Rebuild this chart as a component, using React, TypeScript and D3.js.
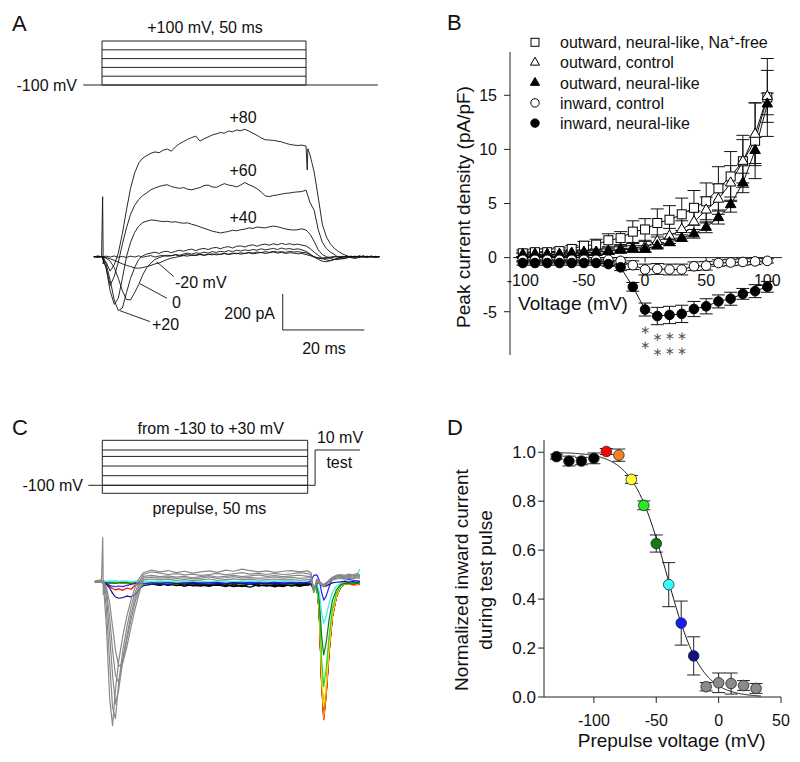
import React from "react";
import * as d3 from "d3";

const FONT = "Arial, 'Liberation Sans', Helvetica, sans-serif";

// ================= Panel A data (time in ms, current in pA) =================
const protoLevelsA = [-100, -60, -20, 20, 60, 100];
const timeA = d3.range(-2, 69); // sampling grid, ms
const traceA80 = [
  0, 3, 0, -30, -80, -45, 20, 130, 260, 380,
  465, 520, 548, 562, 575, 582, 578, 592, 598, 586,
  610, 628, 640, 652, 662, 670, 642, 655, 665, 676,
  682, 690, 686, 698, 694, 704, 700, 708, 698, 686,
  674, 660, 650, 648, 646, 642, 638, 630, 624, 620,
  618, 620, 615, 565, 470, 330, 180, 110, 70, 45,
  28, 15, 5, -5, -10, -4, 3, -3, 2, -2,
  1];
const traceA80Notch: [number, number][] = [[50.3, 482], [50.45, 600]];
const traceA60 = [
  0, -3, 0, -60, -160, -110, -30, 70, 160, 235,
  285, 318, 340, 355, 372, 382, 390, 396, 400, 390,
  384, 380, 384, 375, 372, 378, 384, 395, 398, 388,
  385, 396, 406, 398, 394, 388, 398, 412, 400, 390,
  378, 360, 338, 334, 340, 343, 348, 352, 354, 358,
  360, 362, 370, 300, 258, 150, 80, 45, 25, 12,
  -5, -12, -8, 2, -3, 4, 0, -3, 2, -2,
  0];
const traceA40 = [
  0, 2, 0, -60, -190, -265, -230, -120, 0, 80,
  135, 170, 190, 198, 204, 202, 198, 195, 197, 192,
  194, 189, 186, 188, 180, 174, 166, 158, 150, 142,
  137, 132, 136, 140, 147, 144, 150, 153, 160, 157,
  165, 162, 160, 166, 170, 167, 160, 154, 150, 148,
  150, 155, 148, 125, 85, 38, 12, 0, -10, -16,
  -16, -10, -4, 2, -3, 4, -2, 3, -3, 1,
  0];
const traceA20 = [
  0, 2, 0, -40, -130, -240, -300, -285, -200, -120,
  -60, -15, 5, 15, 20, 25, 18, 28, 30, 22,
  30, 36, 30, 38, 42, 34, 42, 46, 40, 48,
  52, 44, 52, 56, 48, 58, 60, 54, 62, 66,
  58, 66, 70, 64, 72, 66, 74, 68, 72, 66,
  70, 64, 60, 45, 25, 8, -8, -18, -22, -15,
  -8, -3, 4, -2, 3, -4, 2, -1, 3, -2,
  0];
const traceA0 = [
  0, -2, 0, -8, -25, -60, -120, -190, -238, -240,
  -200, -155, -100, -60, -35, -15, -5, 2, 8, 5,
  12, 8, 15, 20, 14, 22, 18, 25, 20, 28,
  24, 30, 26, 34, 28, 36, 32, 38, 34, 40,
  36, 44, 38, 42, 46, 40, 48, 42, 45, 40,
  44, 38, 30, 15, -2, -15, -25, -28, -22, -14,
  -8, -2, 3, -3, 2, -2, 4, -1, 2, -3,
  0];
const traceAm20 = [
  0, 2, 0, -4, -12, -20, -30, -40, -48, -55,
  -62, -64, -60, -55, -48, -40, -35, -25, -15, -8,
  -4, 2, 6, 3, 10, 6, 12, 8, 14, 10,
  16, 12, 18, 14, 20, 16, 22, 18, 24, 20,
  26, 22, 28, 24, 30, 26, 28, 24, 30, 26,
  28, 24, 22, 12, 0, -8, -12, -10, -6, -2,
  2, -2, 3, -3, 1, -2, 3, -1, 2, -2,
  0];
const traceAm40 = [
  0, -2, 0, 3, -2, 4, -3, 2, -4, 3,
  -2, 5, -3, 2, 6, -2, 4, 8, 2, 6,
  10, 4, 8, 12, 6, 10, 14, 8, 12, 16,
  10, 14, 18, 12, 16, 20, 14, 18, 22, 16,
  20, 24, 18, 22, 26, 20, 24, 18, 22, 20,
  16, 18, 12, 6, -2, -6, -8, -4, -2, 2,
  -3, 2, -2, 3, -1, 2, -3, 1, -2, 2,
  0];
const spikeA: [number, number][] = [[-0.1, 0], [0.15, 333], [0.3, -40], [0.55, 0]];

// ================= Panel B data =================
const voltB = [-100, -90, -80, -70, -60, -50, -40, -30, -20, -10, 0, 10, 20, 30, 40, 50, 60, 70, 80, 90, 100];
const sqMean = [0.4, 0.5, 0.5, 0.6, 0.8, 1.1, 1.2, 1.6, 1.8, 2.4, 2.6, 3.2, 3.5, 4.0, 4.6, 5.2, 6.4, 7.5, 8.9, 10.8, 14.8];
const sqErr = [0.3, 0.3, 0.3, 0.3, 0.3, 0.4, 0.5, 0.6, 0.6, 1.0, 1.0, 1.3, 1.3, 1.5, 1.6, 1.7, 2.0, 2.3, 2.4, 3.5, 3.6];
const triOMean = [0.2, 0.3, 0.3, 0.3, 0.4, 0.4, 0.5, 0.6, 0.8, 0.9, 1.0, 1.5, 2.0, 2.6, 3.3, 4.4, 5.4, 6.9, 8.9, 11.4, 14.9];
const triOErr = [0.2, 0.2, 0.2, 0.2, 0.2, 0.2, 0.3, 0.3, 0.3, 0.4, 0.5, 0.6, 0.7, 0.8, 1.0, 1.2, 1.4, 1.6, 2.0, 2.9, 2.4];
const triFMean = [0.3, 0.3, 0.3, 0.3, 0.4, 0.5, 0.5, 0.6, 0.7, 0.8, 0.8, 1.1, 1.4, 1.8, 2.2, 2.8, 3.7, 4.9, 6.9, 9.9, 14.2];
const triFErr = [0.2, 0.2, 0.2, 0.2, 0.2, 0.2, 0.2, 0.2, 0.3, 0.3, 0.3, 0.3, 0.3, 0.3, 0.4, 0.5, 0.6, 0.7, 0.9, 1.2, 1.0];
const cirOMean = [-0.2, -0.2, -0.2, -0.2, -0.2, -0.2, -0.2, -0.2, -0.3, -0.7, -1.1, -1.05, -1.1, -1.1, -0.8, -0.75, -0.5, -0.45, -0.4, -0.35, -0.3];
const cirOErr = [0.2, 0.2, 0.2, 0.2, 0.2, 0.2, 0.2, 0.2, 0.3, 0.4, 0.5, 0.5, 0.5, 0.5, 0.4, 0.4, 0.3, 0.3, 0.3, 0.3, 0.2];
const cirFMean = [-0.5, -0.5, -0.5, -0.5, -0.5, -0.5, -0.5, -0.6, -0.9, -2.7, -4.8, -5.4, -5.3, -5.2, -4.75, -4.5, -4.05, -3.8, -3.35, -3.1, -2.7];
const cirFErr = [0.2, 0.2, 0.2, 0.2, 0.2, 0.2, 0.2, 0.2, 0.3, 0.4, 0.6, 0.8, 0.8, 0.8, 0.7, 0.7, 0.6, 0.6, 0.5, 0.6, 0.5];
const ticksBy = [-5, 0, 5, 10, 15];
const ticksBx = [-100, -50, 0, 50, 100];
const starV = [0, 10, 20, 30];
const starTop = [-6.65, -7.3, -7.2, -7.2];
const starBottom = [-8.0, -8.7, -8.6, -8.6];
const legendB = ["outward, neural-like, Na", "outward, control", "outward, neural-like", "inward, control", "inward, neural-like"];

// ================= Panel C data =================
const protoLevelsC = [-130, -100, -70, -40, -10, 10, 30];
const timeC = [
  -1.8, -1, -0.3, 0.3, 1, 1.8, 2.5, 3.2, 4, 5,
  6, 7, 8, 9, 10, 12, 14, 16, 18, 20,
  22, 24, 26, 28, 30, 32, 34, 36, 38, 40,
  42, 44, 46, 48, 50, 50.8, 51.5, 52.2, 52.8, 53.4,
  53.9, 54.5, 55.2, 56, 57, 58, 59, 60, 61, 62,
  62.7];
const cBlack1 = [0, 3, -2, 4, -3, -6, -4, -8, -5, -7, -4, -8, -6, -3, -7, -12, -18, -10, -22, -14, -20, -25, -12, -18, -28, -15, -22, -30, -16, -24, -20, -27, -14, -21, -18,
  -15, -45, -20, -164, -559, -745, -618, -387, -194, -82, -30, -12, -9, -14, -8, -11];
const cBlack2 = [0, -2, 4, -3, -5, -2, -7, -4, -9, -5, -3, -7, -10, -6, -4, -15, -9, -20, -13, -25, -16, -11, -22, -18, -14, -26, -19, -12, -23, -17, -29, -15, -20, -13, -19,
  -14, -42, -18, -161, -548, -730, -606, -380, -190, -80, -29, -10, -12, -7, -13, -9];
const cBlack3 = [0, 2, -3, 1, -4, -6, -3, -8, -5, -4, -9, -6, -3, -8, -5, -10, -17, -8, -19, -12, -23, -16, -10, -21, -15, -27, -18, -13, -24, -16, -21, -12, -25, -17, -14,
  -12, -44, -17, -163, -555, -740, -614, -385, -192, -81, -30, -11, -8, -13, -9, -12];
const cBlack4 = [0, -3, 2, -2, -5, -3, -6, -9, -4, -7, -5, -8, -11, -6, -9, -13, -20, -11, -16, -24, -13, -19, -26, -14, -21, -17, -28, -13, -20, -24, -15, -22, -18, -26, -16,
  -13, -40, -16, -166, -566, -755, -627, -393, -196, -83, -30, -10, -13, -8, -12, -10];
const cRed = [0, 2, -3, 2, -10, -25, -38, -45, -40, -48, -35, -42, -20, -10, -8, -12, -6, -10, -14, -8, -11, -7, -13, -9, -6, -12, -8, -10, -7, -11, -9, -6, -10, -8, -11,
  -8, -40, -15, -170, -575, -767, -635, -400, -200, -85, -30, -12, -14, -18, -16, -15];
const cOrange = [0, -2, 3, -5, -8, -4, -9, -6, -10, -7, -5, -9, -6, -11, -8, -5, -10, -7, -12, -6, -9, -11, -7, -5, -10, -8, -12, -6, -9, -7, -11, -8, -6, -10, -7,
  -9, -40, -15, -165, -570, -760, -630, -395, -198, -84, -30, -12, -15, -10, -14, -11];
const cYellow = [5, 10, 2, -3, -5, -2, -7, -4, -6, -3, -8, -5, -2, -6, -4, -7, -3, -5, -8, -4, -6, -2, -7, -5, -3, -6, -8, -4, -5, -7, -3, -6, -4, -8, -5,
  -6, -45, -15, -150, -520, -694, -575, -360, -180, -76, -28, -8, -10, -7, -12, -9];
const cGreen = [0, 4, -3, -2, -6, -3, -8, -5, -2, -7, -4, -9, -6, -3, -8, -11, -5, -9, -7, -12, -6, -10, -8, -4, -11, -7, -14, -9, -6, -12, -8, -10, -13, -7, -9,
  -10, -60, -20, -128, -437, -583, -484, -303, -152, -64, -23, -10, -12, -8, -11, -6];
const cDkGreen = [0, -3, 2, -6, -4, -8, -5, -9, -6, -3, -7, -10, -5, -8, -12, -6, -9, -4, -11, -7, -13, -8, -5, -10, -14, -7, -9, -12, -6, -10, -8, -13, -7, -11, -9,
  -8, -45, -18, -90, -305, -407, -338, -212, -106, -45, -16, -8, -10, -6, -9, -7];
const cCyan = [0, 3, -2, 4, 2, 5, 3, 6, 2, 5, 4, 1, 3, 6, 2, 4, 0, 3, 5, 1, 4, 2, -1, 3, 5, 0, 2, 4, 1, 3, 5, 2, 0, 4, 2,
  2, -40, -10, -51, -173, -231, -192, -120, -60, -25, -9, 5, 12, 20, 40, 70];
const cBlue = [0, -2, 3, -4, -10, -20, -25, -28, -24, -27, -20, -15, -10, -8, -12, -6, -9, -5, -10, -7, -4, -8, -6, -3, -9, -5, -7, -4, -8, -6, -3, -7, -5, -8, -4,
  5, 35, 38, 10, -60, -102, -80, -30, 15, 35, 30, 20, 12, 8, 5, 3];
const cNavy = [0, 2, -3, -5, -15, -35, -65, -85, -92, -88, -80, -84, -72, -40, -22, -15, -12, -18, -10, -14, -8, -12, -16, -9, -13, -7, -11, -15, -9, -12, -8, -13, -10, -7, -11,
  -10, -40, -12, -6, -21, -28, -23, -15, -7, -3, -1, 2, -2, 1, -3, 0];
const cGray1 = [0, 5, 10, -20, -250, -650, -800, -600, -440, -300, -190, -100, -30, 20, 50, 65, 55, 62, 50, 58, 48, 55, 60, 52, 64, 58, 70, 62, 55, 60, 52, 58, 62, 55, 60,
  50, -60, 15, 5, -10, -15, -5, 10, 25, 35, 40, 35, 42, 38, 45, 40];
const cGray2 = [0, -4, 8, -10, -150, -450, -700, -760, -560, -380, -250, -140, -60, 0, 40, 55, 48, 40, 45, 38, 42, 35, 40, 46, 38, 44, 50, 42, 48, 40, 46, 40, 44, 50, 45,
  40, -55, 10, 0, -12, -18, -8, 5, 20, 30, 35, 30, 36, 32, 38, 34];
const cGray3 = [0, 4, -5, -5, -80, -300, -520, -680, -600, -430, -300, -180, -90, -20, 30, 35, 28, 32, 25, 30, 22, 28, 34, 26, 30, 36, 28, 32, 38, 30, 34, 28, 32, 36, 30,
  30, -50, 5, -5, -15, -22, -10, 2, 15, 25, 28, 25, 30, 26, 32, 28];
const cGray4 = [0, -3, 6, 0, -50, -200, -380, -520, -560, -440, -320, -210, -110, -40, 20, 25, 20, 24, 18, 22, 16, 20, 26, 18, 22, 28, 20, 24, 18, 22, 26, 20, 24, 18, 22,
  22, -45, 0, -8, -18, -25, -12, 0, 12, 20, 22, 18, 24, 20, 26, 22];
const cGray5 = [0, 3, -4, 0, -30, -120, -250, -380, -470, -450, -360, -250, -150, -60, 10, 15, 10, 14, 8, 12, 6, 10, 15, 8, 12, 16, 10, 14, 8, 12, 15, 10, 12, 8, 12,
  12, -40, -5, -10, -20, -28, -15, -3, 8, 15, 18, 14, 20, 16, 22, 18];
const spikeC: [number, number][] = [[-0.2, 0], [0.1, 245], [0.25, -72], [0.5, 0]];

// ================= Panel D data =================
const voltD = [-130, -120, -110, -100, -90, -80, -70, -60, -50, -40, -30, -20, -10, 0, 10, 20, 30];
const meanD = [0.982, 0.964, 0.964, 0.975, 1.003, 0.988, 0.889, 0.783, 0.627, 0.459, 0.302, 0.168, 0.042, 0.058, 0.055, 0.047, 0.035];
const errD = [0.01, 0.02, 0.015, 0.022, 0.012, 0.025, 0.016, 0.018, 0.035, 0.09, 0.09, 0.078, 0.017, 0.04, 0.043, 0.02, 0.02];
const colorD = ["#000000", "#000000", "#000000", "#000000", "#ff0000", "#f5831f", "#ffff33", "#22ee22", "#137a13", "#33ffff", "#1a1aff", "#10108c", "#8a8a8a", "#8a8a8a", "#8a8a8a", "#8a8a8a", "#8a8a8a"];
const fitVhalf = -41.6;
const fitSlope = 13.7;
const ticksDx = [-100, -50, 0, 50];
const ticksDy = [0, 0.2, 0.4, 0.6, 0.8, 1.0];

type P = [number, number];

export default function App() {
  // ---- scales A
  const xA = d3.scaleLinear().domain([0, 50]).range([102, 306]);
  const yA = d3.scaleLinear().domain([0, 200]).range([256.7, 220.7]);
  const vA = d3.scaleLinear().domain([-100, 100]).range([85, 41]);
  const lineA = d3.line<P>().x((d) => xA(d[0])).y((d) => yA(d[1]));
  const ptsA = (vals: number[]) => timeA.map((t, i) => [t, vals[i]] as P);
  const a80pts = [...ptsA(traceA80), ...traceA80Notch].sort((a, b) => a[0] - b[0]);
  const tracesA = [traceAm40, traceAm20, traceA0, traceA20, traceA40, traceA60];

  // ---- scales B
  const xB = d3.scaleLinear().domain([-108, 112]).range([513, 782]);
  const yB = d3.scaleLinear().domain([-9, 19]).range([355, 52]);
  const lineB = d3.line<P>().x((d) => xB(d[0])).y((d) => yB(d[1]));
  const triPath = d3.symbol().type(d3.symbolTriangle).size(48)() as string;
  const triLeg = d3.symbol().type(d3.symbolTriangle).size(36)() as string;
  const seriesB = [
    { m: sqMean, e: sqErr, kind: "sq" },
    { m: triOMean, e: triOErr, kind: "triO" },
    { m: triFMean, e: triFErr, kind: "triF" },
    { m: cirOMean, e: cirOErr, kind: "cirO" },
    { m: cirFMean, e: cirFErr, kind: "cirF" },
  ];
  const marker = (kind: string, x: number, y: number, leg = false, key?: any) => {
    if (kind === "sq") {
      const s = leg ? 8 : 9;
      return <rect key={key} x={x - s / 2} y={y - s / 2} width={s} height={s} fill="#fff" stroke="#000" strokeWidth={1} />;
    }
    if (kind === "triO" || kind === "triF") {
      return <path key={key} d={leg ? triLeg : triPath} transform={`translate(${x},${y})`} fill={kind === "triF" ? "#000" : "#fff"} stroke="#000" strokeWidth={1} />;
    }
    return <circle key={key} cx={x} cy={y} r={leg ? 4.2 : 4.8} fill={kind === "cirF" ? "#000" : "#fff"} stroke="#000" strokeWidth={1} />;
  };

  // ---- scales C
  const xC = d3.scaleLinear().domain([0, 50]).range([102.3, 307.7]);
  const yC = d3.scaleLinear().domain([0, 200]).range([581.7, 545.7]);
  const vC = d3.scaleLinear().domain([-130, -100, 10, 30]).range([493.3, 485.3, 450, 440.3]);
  const lineC = d3.line<P>().x((d) => xC(d[0])).y((d) => yC(d[1]));
  const ptsC = (vals: number[]) => timeC.map((t, i) => [t, vals[i]] as P);
  const tracesC = [
    { v: cBlack1, c: "#000" }, { v: cBlack2, c: "#000" }, { v: cBlack3, c: "#000" }, { v: cBlack4, c: "#000" },
    { v: cRed, c: "#ff0000" }, { v: cOrange, c: "#ff8a1c" }, { v: cYellow, c: "#f2e600" }, { v: cGreen, c: "#22dd22" },
    { v: cDkGreen, c: "#117711" }, { v: cCyan, c: "#33eeee" }, { v: cBlue, c: "#2222ff" }, { v: cNavy, c: "#12128a" },
    { v: cGray1, c: "#888" }, { v: cGray2, c: "#888" }, { v: cGray3, c: "#888" }, { v: cGray4, c: "#888" }, { v: cGray5, c: "#888" },
  ];

  // ---- scales D
  const xD = d3.scaleLinear().domain([-140, 50]).range([544, 781]);
  const yD = d3.scaleLinear().domain([0, 1.05]).range([697, 440]);
  const fitV = d3.range(-130, 34.5, 0.5);
  const fitLine = d3.line<number>().x((v) => xD(v)).y((v) => yD(1 / (1 + Math.exp((v - fitVhalf) / fitSlope))));

  const txt = { fontFamily: FONT, fill: "#111" } as const;

  return (
    <svg width={800} height={762} style={{ position: "absolute", left: 0, top: 0, background: "#fff" }} fontFamily={FONT}>
      <rect width={800} height={762} fill="#fff" />
      {/* ============ Panel A ============ */}
      <text x={12} y={31} fontSize={22} {...txt}>A</text>
      <text x={205} y={33} fontSize={16} textAnchor="middle" {...txt}>+100 mV, 50 ms</text>
      <g stroke="#222" strokeWidth={1} fill="none">
        <path d={`M${xA(-4.6)},${vA(-100)}H${xA(67.6)}`} />
        {protoLevelsA.map((v) => (
          <path key={v} d={`M${xA(0)},${vA(v)}H${xA(50)}`} />
        ))}
        <path d={`M${xA(0)},${vA(-100)}V${vA(100)}M${xA(50)},${vA(-100)}V${vA(100)}`} />
      </g>
      <text x={77} y={91} fontSize={16} textAnchor="end" {...txt}>-100 mV</text>
      <g fill="none" stroke="#111" strokeWidth={0.9} strokeLinejoin="round">
        {tracesA.map((vals, i) => (
          <path key={i} d={lineA(ptsA(vals)) as string} />
        ))}
        <path d={lineA(a80pts) as string} />
        <path d={lineA(spikeA) as string} />
      </g>
      <text x={243} y={122.5} fontSize={16} textAnchor="middle" {...txt}>+80</text>
      <text x={243} y={176} fontSize={16} textAnchor="middle" {...txt}>+60</text>
      <text x={243} y={223} fontSize={16} textAnchor="middle" {...txt}>+40</text>
      <g stroke="#111" strokeWidth={0.9}>
        <line x1={xA(13.4)} y1={yA(-28)} x2={xA(17.6)} y2={yA(-111)} />
        <line x1={xA(9.3)} y1={yA(-150)} x2={xA(15.9)} y2={yA(-231)} />
        <line x1={xA(4.4)} y1={yA(-300)} x2={xA(11.8)} y2={yA(-361)} />
      </g>
      <text x={175} y={287.5} fontSize={16} {...txt}>-20 mV</text>
      <text x={172} y={307.5} fontSize={16} {...txt}>0</text>
      <text x={152} y={330} fontSize={16} {...txt}>+20</text>
      <path d={`M${xA(44.3)},${yA(-207)}V${yA(-407)}H${xA(64.3)}`} fill="none" stroke="#222" strokeWidth={1} />
      <text x={275} y={318.5} fontSize={16} textAnchor="end" {...txt}>200 pA</text>
      <text x={324} y={353.5} fontSize={16} textAnchor="middle" {...txt}>20 ms</text>

      {/* ============ Panel B ============ */}
      <text x={447} y={30} fontSize={22} {...txt}>B</text>
      <g stroke="#222" strokeWidth={1} fill="none">
        <line x1={xB(-108) - 3} y1={yB(19)} x2={xB(-108) - 3} y2={yB(-9)} />
        <line x1={xB(-108)} y1={yB(0)} x2={xB(112)} y2={yB(0)} />
        {ticksBy.map((t) => (
          <line key={t} x1={xB(-108) - 9} x2={xB(-108) - 3} y1={yB(t)} y2={yB(t)} />
        ))}
        {ticksBx.map((t) => (
          <line key={t} x1={xB(t)} x2={xB(t)} y1={yB(0)} y2={yB(0) + 5} />
        ))}
      </g>
      {ticksBy.map((t) => (
        <text key={t} x={497} y={yB(t) + 5.8} fontSize={16} textAnchor="end" {...txt}>{t}</text>
      ))}
      {ticksBx.map((t) => (
        <text key={t} x={xB(t)} y={286} fontSize={16} textAnchor="middle" {...txt}>{t}</text>
      ))}
      <text x={573} y={310} fontSize={19} textAnchor="middle" {...txt}>Voltage (mV)</text>
      <text transform="translate(469.5,207) rotate(-90)" fontSize={19} textAnchor="middle" {...txt}>Peak current density (pA/pF)</text>
      {/* error bars */}
      <g stroke="#111" strokeWidth={1} fill="none">
        {seriesB.map((s, si) =>
          voltB.map((v, i) => {
            const x = xB(v), y1 = yB(s.m[i] + s.e[i]), y2 = yB(s.m[i] - s.e[i]);
            return (
              <path key={`${si}-${i}`} d={`M${x},${y1}V${y2}M${x - 6.5},${y1}H${x + 6.5}M${x - 6.5},${y2}H${x + 6.5}`} />
            );
          })
        )}
      </g>
      <g stroke="#111" strokeWidth={1} fill="none">
        {seriesB.map((s, si) => (
          <path key={si} d={lineB(voltB.map((v, i) => [v, s.m[i]] as P)) as string} />
        ))}
      </g>
      {seriesB.map((s, si) => (
        <g key={si}>{voltB.map((v, i) => marker(s.kind, xB(v), yB(s.m[i]), false, i))}</g>
      ))}
      {starV.map((v, i) => (
        <g key={i}>
          <text x={xB(v)} y={yB(starTop[i]) + 4.5} fontSize={12} textAnchor="middle" fill="#555" fontFamily="'DejaVu Sans', sans-serif">∗</text>
          <text x={xB(v)} y={yB(starBottom[i]) + 4.5} fontSize={12} textAnchor="middle" fill="#555" fontFamily="'DejaVu Sans', sans-serif">∗</text>
        </g>
      ))}
      {/* legend */}
      {legendB.map((l, i) => (
        <g key={i}>
          {marker(seriesB[i].kind, 535, 42.3 + i * 20.2, true)}
          <text x={560} y={42.3 + i * 20.2 + 5.8} fontSize={16} {...txt}>
            {l}
            {i === 0 && (
              <>
                <tspan dy={-6} fontSize={10}>+</tspan>
                <tspan dy={6}>-free</tspan>
              </>
            )}
          </text>
        </g>
      ))}

      {/* ============ Panel C ============ */}
      <text x={12} y={434.5} fontSize={22} {...txt}>C</text>
      <text x={210.7} y={433.5} fontSize={16} textAnchor="middle" {...txt}>from -130 to +30 mV</text>
      <g stroke="#222" strokeWidth={1} fill="none">
        {protoLevelsC.map((v) => (
          <path key={v} d={`M${xC(0)},${vC(v)}H${xC(50)}`} />
        ))}
        <path d={`M${xC(0)},${vC(-130)}V${vC(30)}M${xC(50)},${vC(-130)}V${vC(30)}`} />
        <path d={`M${xC(-3.4)},${vC(-100)}H${xC(51.8)}V${vC(10)}H${xC(62.7)}`} />
      </g>
      <text x={83} y={491} fontSize={16} textAnchor="end" {...txt}>-100 mV</text>
      <text x={340} y={443} fontSize={16} textAnchor="middle" {...txt}>10 mV</text>
      <text x={339.3} y={467.5} fontSize={16} textAnchor="middle" {...txt}>test</text>
      <text x={209.3} y={514} fontSize={16} textAnchor="middle" {...txt}>prepulse, 50 ms</text>
      <g fill="none" strokeWidth={1.2} strokeLinejoin="round">
        {tracesC.map((tr, i) => (
          <path key={i} d={lineC(ptsC(tr.v)) as string} stroke={tr.c} />
        ))}
        <path d={lineC(spikeC) as string} stroke="#888" />
      </g>

      {/* ============ Panel D ============ */}
      <text x={447} y={434.5} fontSize={22} {...txt}>D</text>
      <g stroke="#222" strokeWidth={1} fill="none">
        <line x1={xD(-140)} y1={yD(1.05)} x2={xD(-140)} y2={yD(0)} />
        <line x1={xD(-140)} y1={yD(0)} x2={xD(50)} y2={yD(0)} />
        {ticksDy.map((t) => (
          <line key={t} x1={xD(-140) - 6} x2={xD(-140)} y1={yD(t)} y2={yD(t)} />
        ))}
        {ticksDx.map((t) => (
          <line key={t} x1={xD(t)} x2={xD(t)} y1={yD(0)} y2={yD(0) + 6} />
        ))}
      </g>
      {ticksDy.map((t) => (
        <text key={t} x={536} y={yD(t) + 6} fontSize={17} textAnchor="end" {...txt}>{t.toFixed(1)}</text>
      ))}
      {ticksDx.map((t) => (
        <text key={t} x={xD(t)} y={725.8} fontSize={16} textAnchor="middle" {...txt}>{t}</text>
      ))}
      <text x={671.7} y={746.5} fontSize={19} textAnchor="middle" {...txt}>Prepulse voltage (mV)</text>
      <text transform="translate(468,580) rotate(-90)" fontSize={19} textAnchor="middle" {...txt}>Normalized inward current</text>
      <text transform="translate(491.5,580) rotate(-90)" fontSize={19} textAnchor="middle" {...txt}>during test pulse</text>
      <g stroke="#222" strokeWidth={1} fill="none">
        {voltD.map((v, i) => {
          const x = xD(v), y1 = yD(meanD[i] + errD[i]), y2 = yD(meanD[i] - errD[i]);
          return <path key={i} d={`M${x},${y1}V${y2}M${x - 6.5},${y1}H${x + 6.5}M${x - 6.5},${y2}H${x + 6.5}`} />;
        })}
      </g>
      <path d={fitLine(fitV) as string} fill="none" stroke="#111" strokeWidth={1} />
      {voltD.map((v, i) => (
        <circle key={i} cx={xD(v)} cy={yD(meanD[i])} r={5.3} fill={colorD[i]} stroke="#222" strokeWidth={0.8} />
      ))}
    </svg>
  );
}
